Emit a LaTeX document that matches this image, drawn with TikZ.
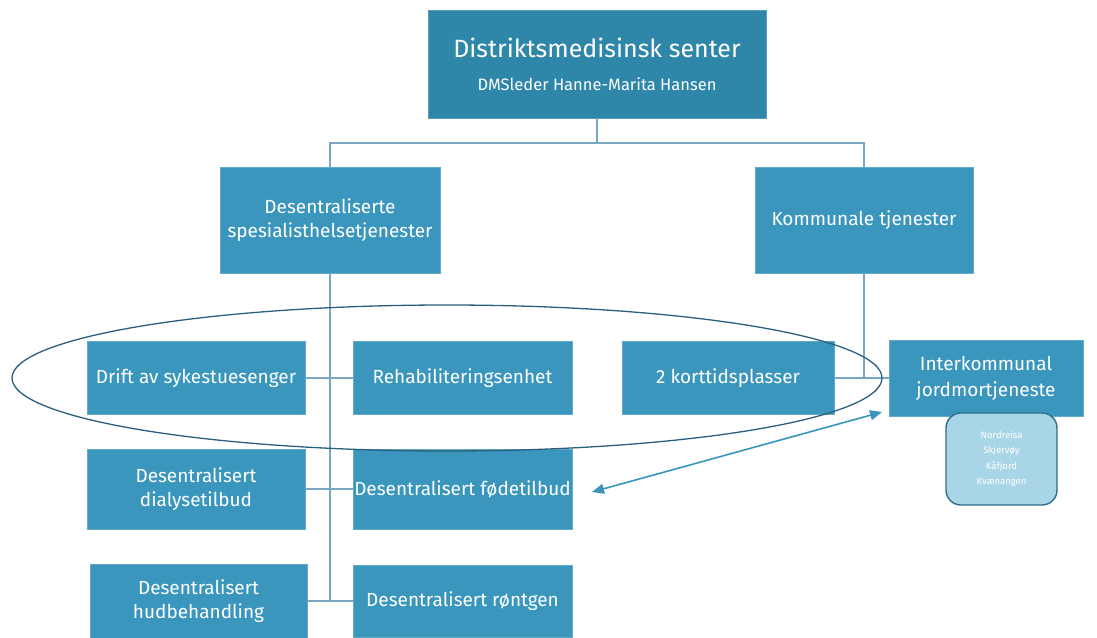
\documentclass[tikz,border=0pt]{standalone}
\usepackage{fontspec}
\setmainfont{Fira Sans}
\usetikzlibrary{arrows.meta}
\definecolor{boxblue}{HTML}{3A96BC}
\definecolor{topblue}{HTML}{2E86A8}
\definecolor{linecol}{HTML}{7AA5C3}
\definecolor{ellcol}{HTML}{2A5F7F}
\definecolor{arrcol}{HTML}{3A95BD}
\definecolor{smallfill}{HTML}{A9D6E6}
\definecolor{smallborder}{HTML}{2F6F8C}
\tikzset{
  boxnode/.style={fill=boxblue, draw=boxblue!80!white, line width=0.6pt, text=white, inner sep=0pt, align=center, font=\fontsize{19}{24}\selectfont},
  conn/.style={draw=linecol, line width=2pt},
}
\begin{document}
\begin{tikzpicture}[x=1pt, y=-1pt]
\useasboundingbox (0,0) rectangle (1097,637);
% nodes
\node[boxnode, fill=topblue, draw=topblue!80!white, minimum width=338pt, minimum height=108pt] (top) at (597,64)
  {{\fontsize{25}{28}\selectfont Distriktsmedisinsk senter}\\[9pt]{\fontsize{16.5}{18}\selectfont DMSleder Hanne-Marita Hansen}};
\node[boxnode, minimum width=220pt, minimum height=106pt] (desent) at (330,220) {Desentraliserte\\spesialisthelsetjenester};
\node[boxnode, minimum width=218pt, minimum height=106pt] (kommunal) at (864,220) {Kommunale tjenester};
\node[boxnode, minimum width=218pt, minimum height=73pt] (drift) at (196,378) {Drift av sykestuesenger};
\node[boxnode, minimum width=219pt, minimum height=73pt] (rehab) at (462.5,378) {Rehabiliteringsenhet};
\node[boxnode, minimum width=212pt, minimum height=73pt] (kort) at (728,378) {2 korttidsplasser};
\node[boxnode, minimum width=194pt, minimum height=76pt, font=\fontsize{19}{26}\selectfont] (inter) at (986,378) {Interkommunal\\jordmortjeneste};
\node[fill=smallfill, draw=smallborder, line width=1.4pt, rounded corners=15pt, minimum width=111pt, minimum height=92pt, inner sep=0pt, align=center, text=white, font=\fontsize{9.5}{15.5}\selectfont] (small) at (1001.5,459) {Nordreisa\\Skjervøy\\Kåfjord\\Kvænangen};
\node[boxnode, minimum width=218pt, minimum height=80pt] (dialyse) at (196,489) {Desentralisert\\dialysetilbud};
\node[boxnode, minimum width=219pt, minimum height=80pt] (fode) at (462.5,489) {Desentralisert fødetilbud};
\node[boxnode, minimum width=217pt, minimum height=74pt] (hud) at (198.5,601) {Desentralisert\\hudbehandling};
\node[boxnode, minimum width=219pt, minimum height=72pt] (ront) at (462.5,601) {Desentralisert røntgen};
% connectors
\coordinate (bus) at (597,143);
\draw[conn] (top.south) -- (bus);
\draw[conn] (desent.north) |- (bus) -| (kommunal.north);
\draw[conn] (desent.south) |- (ront.west);
\draw[conn] (drift.east) -- (rehab.west);
\draw[conn] (dialyse.east) -- (fode.west);
\draw[conn] (hud.east) -- (ront.west);
\draw[conn] (kommunal.south) -- (kommunal.south |- kort.east);
\draw[conn] (kort.east) -- (inter.west);
% ellipse
\coordinate (ellc) at (447,378);
\draw[ellcol, line width=1.3pt] (ellc) ellipse [x radius=435pt, y radius=73pt];
% arrow
\coordinate (a1) at (592,492);
\coordinate (a2) at (882,412);
\draw[arrcol, line width=1.6pt, {Triangle[length=12pt,width=10pt]}-{Triangle[length=12pt,width=10pt]}] (a1) -- (a2);
\end{tikzpicture}
\end{document}
